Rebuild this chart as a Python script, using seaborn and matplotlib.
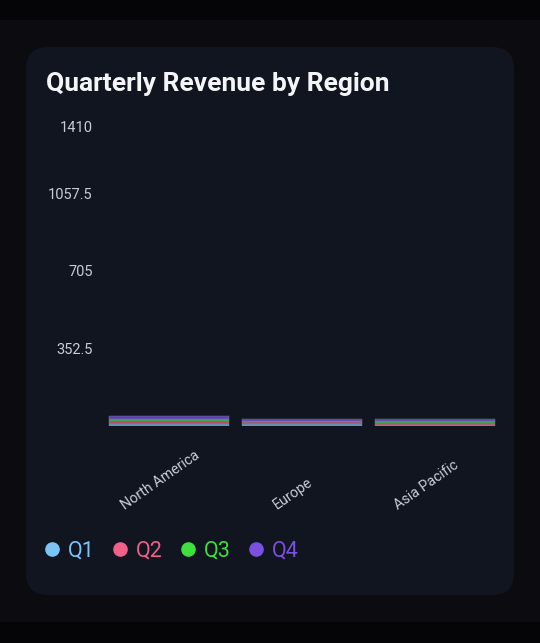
import pandas as pd
import seaborn as sns
import matplotlib.pyplot as plt
from matplotlib.patches import FancyBboxPatch, Rectangle
from matplotlib.lines import Line2D
from matplotlib.transforms import ScaledTranslation

# data (values are tiny next to the 1410 axis max)
regions = ["North America", "Europe", "Asia Pacific"]
quarters = ["Q1", "Q2", "Q3", "Q4"]
q1 = [10, 8, 6]
q2 = [11, 8, 7]
q3 = [12, 9, 10]
q4 = [14, 6, 7]
y_ticks = [352.5, 705, 1057.5, 1410]
y_labels = ["352.5", "705", "1057.5", "1410"]
colors = {"Q1": "#7cc4f8", "Q2": "#f06088", "Q3": "#3de03d", "Q4": "#7b4fe0"}

rows = []
for q, vals in zip(quarters, [q1, q2, q3, q4]):
    for r, v in zip(regions, vals):
        rows.append({"region": r, "quarter": q, "value": v})
df = pd.DataFrame(rows)

sns.set_theme(style="dark")
plt.rcParams['font.family'] = ['Roboto', 'DejaVu Sans']

W, H = 540, 643
fig = plt.figure(figsize=(W / 100, H / 100), dpi=100, facecolor="#0c0c10")

# dark bands top and bottom + the rounded card (behind the axes)
fig.patches.append(Rectangle((0, 1 - 20 / H), 1, 20 / H, transform=fig.transFigure,
                             facecolor="#050507", edgecolor="none", zorder=-2))
fig.patches.append(Rectangle((0, 0), 1, 21 / H, transform=fig.transFigure,
                             facecolor="#050507", edgecolor="none", zorder=-2))
fig.patches.append(FancyBboxPatch((26, H - 595), 488, 548, boxstyle="round,pad=0,rounding_size=22",
                                  transform=None, facecolor="#111520", edgecolor="none", zorder=-1))

ax = fig.add_axes([102.5 / W, (H - 426) / H, 399 / W, 310 / H])
ax.set_facecolor("none")

# histplot stacks the first hue level on top, so feed the order reversed
order = quarters[::-1]
sns.histplot(data=df, x="region", weights="value", hue="quarter", hue_order=order,
             palette=colors, multiple="stack", discrete=True, shrink=0.9,
             alpha=0.75, edgecolor="#6f7e93", linewidth=0.3, legend=False, ax=ax)

ax.set_xlim(-0.5, 2.5)
ax.set_ylim(0, 1410)
ax.set_yticks(y_ticks)
ax.set_yticklabels(y_labels, fontsize=10.5, color="#c9ccd3")
ax.set_xticks(range(len(regions)))
ax.set_xticklabels(regions, rotation=35, fontsize=10.3, color="#c9ccd3", va="bottom")
ax.tick_params(axis="both", length=0)
ax.tick_params(axis="y", pad=7)
ax.tick_params(axis="x", pad=62)
ax.set_xlabel("")
ax.set_ylabel("")
ax.grid(False)
for s in ax.spines.values():
    s.set_visible(False)

# nudge labels: x labels a bit left, top y label kept inside the plot
for lab in ax.get_xticklabels():
    lab.set_transform(lab.get_transform() + ScaledTranslation(-0.09, 0, fig.dpi_scale_trans))
top = ax.get_yticklabels()[-1]
top.set_transform(top.get_transform() + ScaledTranslation(0, -0.10, fig.dpi_scale_trans))

fig.text(46 / W, (H - 91) / H, "Quarterly Revenue by Region", fontsize=19,
         fontweight="bold", color="#f4f5f7", va="baseline", ha="left")

handles = [Line2D([], [], marker="o", linestyle="none", markersize=9.5,
                  markerfacecolor=colors[q], markeredgecolor=colors[q]) for q in quarters]
fig.legend(handles, quarters, loc="center left", bbox_to_anchor=(45 / W, (H - 551) / H),
           ncol=4, frameon=False, fontsize=15.5, handlelength=0.65, handletextpad=0.4,
           columnspacing=0.86, borderpad=0, borderaxespad=0, labelcolor="markerfacecolor")

fig.savefig("out.png", dpi=100, facecolor=fig.get_facecolor())
